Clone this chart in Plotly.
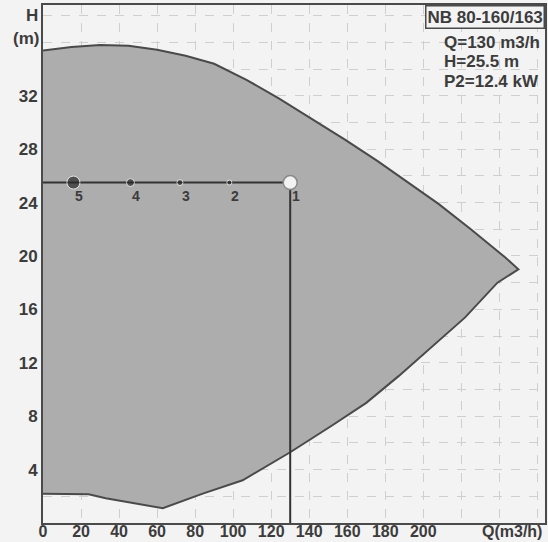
import plotly.graph_objects as go

# ---- data ----
# upper (max-speed) curve, Q in m3/h, H in m
top_q = [0, 15, 30, 45, 60, 75, 90, 107, 124, 141, 159, 176, 191, 208, 225, 243, 250]
top_h = [35.4, 35.65, 35.8, 35.75, 35.45, 35.0, 34.4, 33.2, 31.8, 30.3, 28.7, 27.1, 25.6, 23.9, 22.0, 19.9, 19.0]
# lower boundary (from tip back to Q=0)
low_q = [250, 239, 222, 204, 187, 170, 152, 130, 105, 84, 63, 33, 24, 0]
low_h = [19.0, 18.0, 15.4, 13.1, 11.0, 9.0, 7.3, 5.3, 3.2, 2.2, 1.1, 1.85, 2.15, 2.2]

# duty point
duty_q = 130
duty_h = 25.5

# numbered points on the duty line
pt_q = [130, 98, 72, 46, 16]
pt_labels = ["1", "2", "3", "4", "5"]

# axes
x_tickvals = [0, 20, 40, 60, 80, 100, 120, 140, 160, 180, 200, 220, 240, 260]
x_ticktext = ["0", "20", "40", "60", "80", "100", "120", "140", "160", "180", "200", "", "", ""]
y_tickvals = [0, 2, 4, 6, 8, 10, 12, 14, 16, 18, 20, 22, 24, 26, 28, 30, 32, 34, 36, 38]
y_ticktext = ["", "", "4", "", "8", "", "12", "", "16", "", "20", "", "24", "", "28", "", "32", "", "", ""]

title_box = "NB 80-160/163"
info_lines = ["Q=130 m3/h", "H=25.5 m", "P2=12.4 kW"]

# ---- figure ----
fig = go.Figure()

fig.add_trace(go.Scatter(
    x=top_q + low_q, y=top_h + low_h,
    mode="lines", fill="toself", fillcolor="#adadad",
    line=dict(color="#4a4a4a", width=2),
    hoverinfo="skip", showlegend=False,
))

fig.add_trace(go.Scatter(
    x=[0, duty_q, duty_q], y=[duty_h, duty_h, 0],
    mode="lines", line=dict(color="#333333", width=2),
    hoverinfo="skip", showlegend=False,
))

fig.add_trace(go.Scatter(
    x=pt_q[1:], y=[duty_h] * (len(pt_q) - 1),
    mode="markers",
    marker=dict(color="#2a2a2a", size=[5, 6, 8, 13]),
    hoverinfo="skip", showlegend=False,
))

fig.add_trace(go.Scatter(
    x=[pt_q[0]], y=[duty_h],
    mode="markers",
    marker=dict(color="#f2f2f2", size=14, line=dict(color="#8a8a8a", width=1.5)),
    hoverinfo="skip", showlegend=False,
))

lbl_font = dict(family="Liberation Sans", size=14, color="#3c3c3c", weight="bold")
for q, lab in zip(pt_q, pt_labels):
    fig.add_annotation(text=lab, x=q, y=duty_h, xref="x", yref="y",
                       xshift=6, yshift=-13, showarrow=False, font=lbl_font,
                       xanchor="center", yanchor="middle")

ytickfont = dict(family="Liberation Sans", size=17, color="#3c3c3c", weight="bold")
xtickfont = dict(family="Liberation Sans", size=16, color="#3c3c3c", weight="bold")

fig.update_xaxes(
    range=[0, 264], tickvals=x_tickvals, ticktext=x_ticktext,
    showgrid=True, gridcolor="#cfcfcf", gridwidth=1, griddash="dash",
    showline=True, linecolor="#4a4a4a", linewidth=2, mirror=True,
    zeroline=False, ticks="", tickfont=xtickfont, automargin=False,
    ticklabelstandoff=-7,
)
fig.update_yaxes(
    range=[0, 38.8], tickvals=y_tickvals, ticktext=y_ticktext,
    showgrid=True, gridcolor="#cfcfcf", gridwidth=1, griddash="dash",
    showline=True, linecolor="#4a4a4a", linewidth=2, mirror=True,
    zeroline=False, ticks="", tickfont=ytickfont, automargin=False,
)

ann_font = dict(family="Liberation Sans", size=17, color="#3c3c3c", weight="bold")
fig.add_annotation(text="H", x=-0.022, y=38, xref="paper", yref="y",
                   xanchor="center", yanchor="middle", showarrow=False, font=ann_font)
fig.add_annotation(text="(m)", x=-0.034, y=36.3, xref="paper", yref="y",
                   xanchor="center", yanchor="middle", showarrow=False, font=ann_font)
fig.add_annotation(text="Q(m3/h)", x=0.934, y=-0.017, xref="paper", yref="paper",
                   xanchor="center", yanchor="middle", showarrow=False,
                   font=dict(family="Liberation Sans", size=16, color="#3c3c3c", weight="bold"))

fig.add_annotation(text=title_box, x=1, y=1, xref="paper", yref="paper",
                   xanchor="right", yanchor="top", showarrow=False,
                   font=dict(family="Liberation Sans", size=17, color="#3c3c3c", weight="bold"),
                   bordercolor="#4a4a4a", borderwidth=1.5, borderpad=1, bgcolor="#f3f3f3")
for i, line in enumerate(info_lines):
    fig.add_annotation(text=line, x=0.795, y=0.927 - 0.037 * i, xref="paper", yref="paper",
                       xanchor="left", yanchor="middle", align="left", showarrow=False,
                       font=dict(family="Liberation Sans", size=17, color="#3c3c3c", weight="bold"))

fig.update_layout(
    width=548, height=542,
    margin=dict(l=43, r=3, t=5, b=19),
    paper_bgcolor="#f3f3f3", plot_bgcolor="#f3f3f3",
    showlegend=False,
)

fig.write_html("out.html", config={"displayModeBar": False},
               post_script="document.body.style.margin='0';")
